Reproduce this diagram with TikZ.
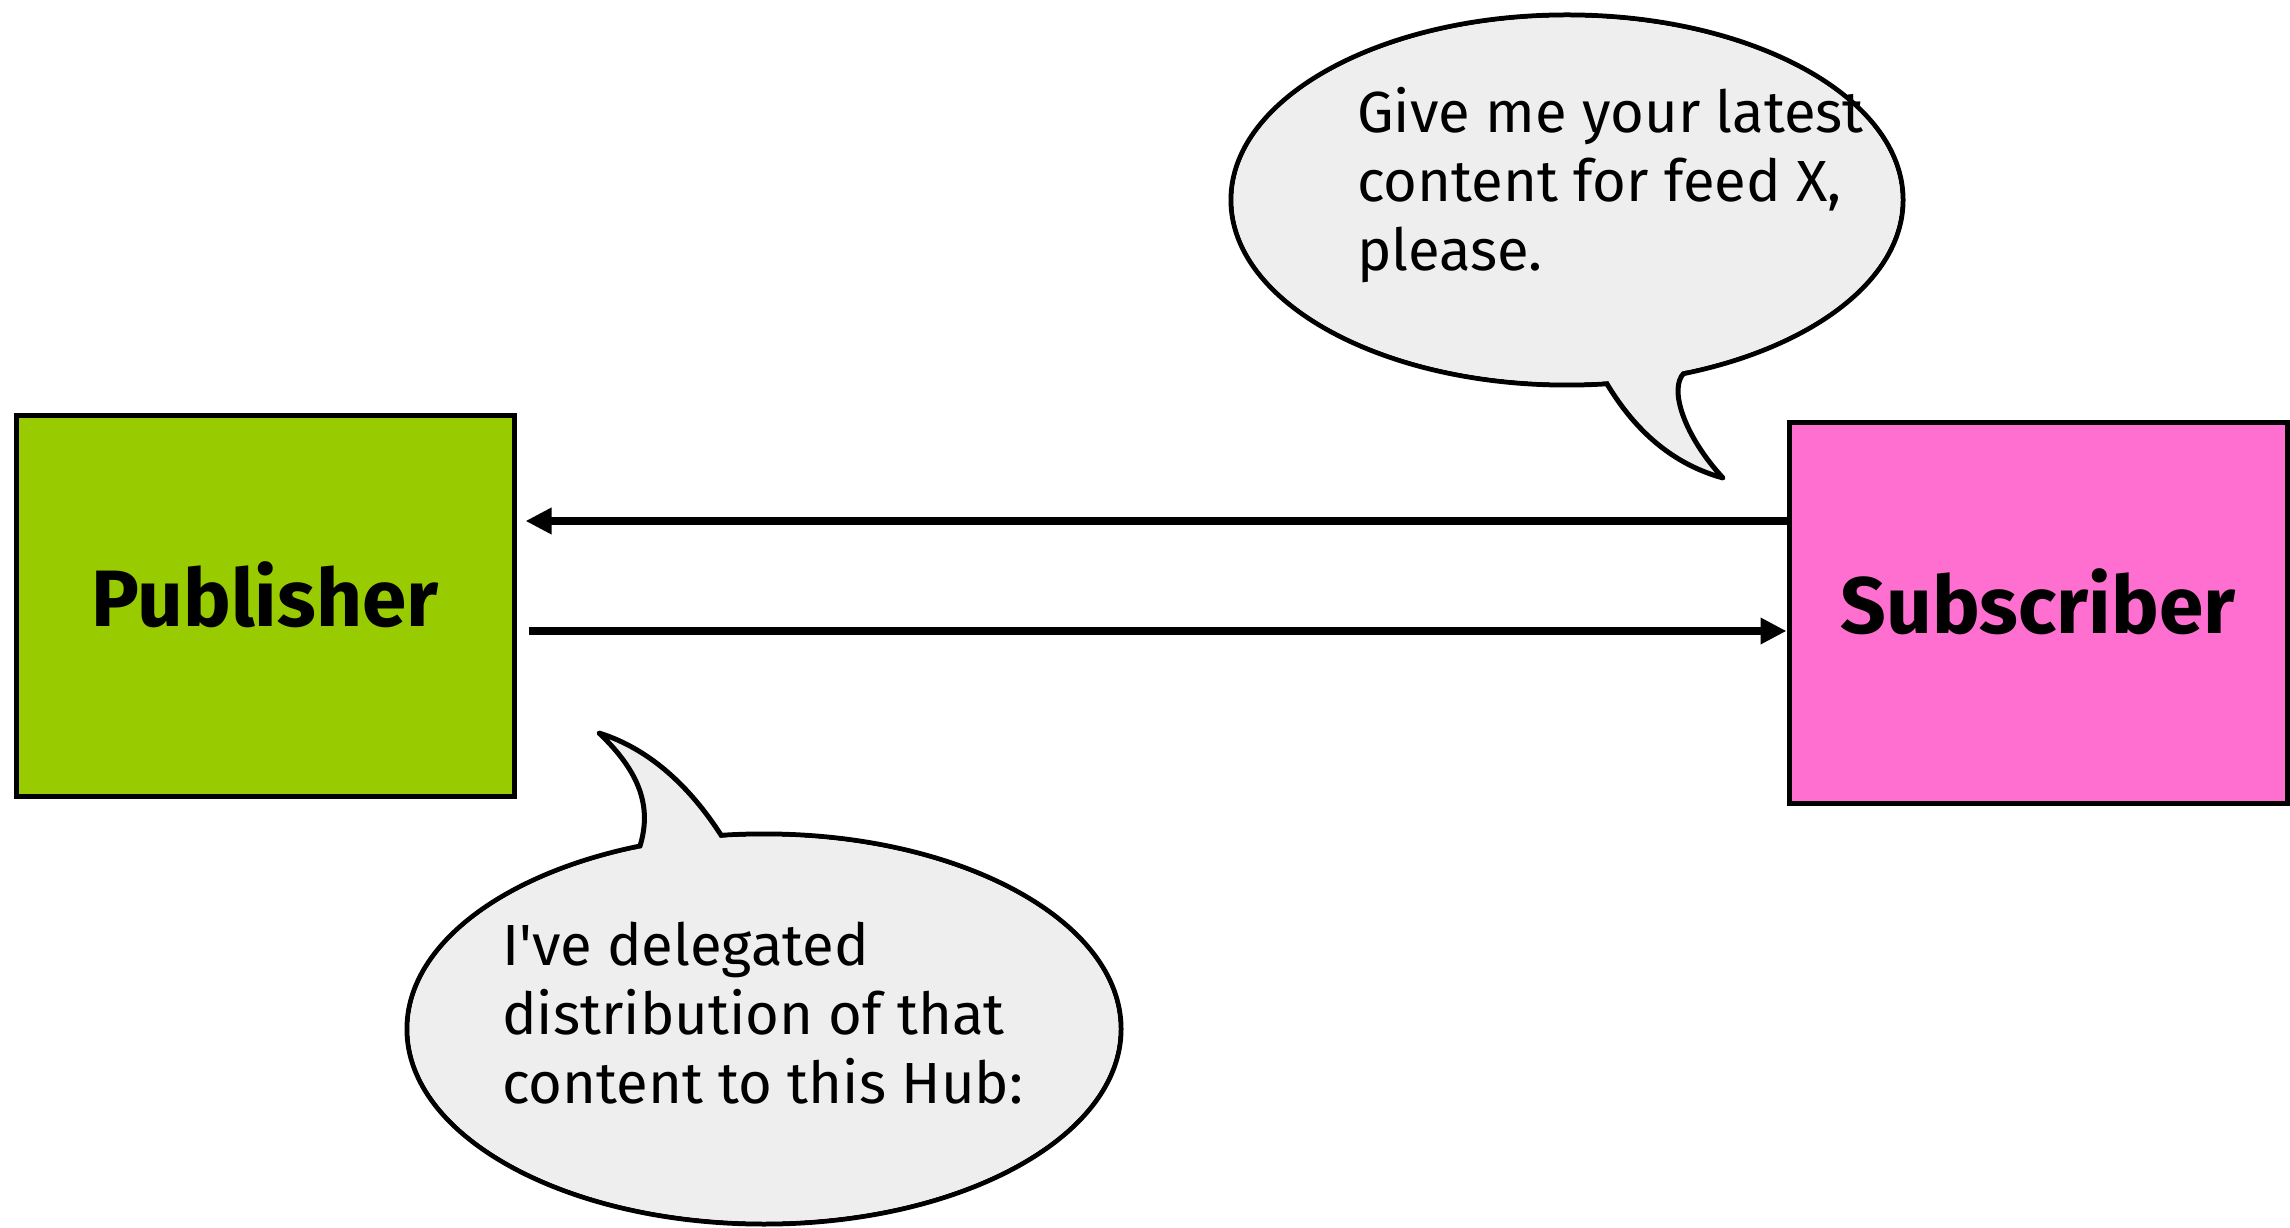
\documentclass[tikz,border=0pt]{standalone}
\usepackage{fontspec}
\setmainfont{Fira Sans}
\usetikzlibrary{arrows.meta,shapes.geometric}
\definecolor{pubgreen}{HTML}{99CC00}
\definecolor{subpink}{HTML}{FF6FCF}
\definecolor{bubblegray}{HTML}{EEEEEE}
\begin{document}
\begin{tikzpicture}[x=1pt, y=1pt,
	party/.style={draw, line width=5pt, minimum width=498pt, minimum height=380pt,
		text height=55pt, text depth=14pt, font=\fontsize{80}{84}\selectfont\bfseries},
	bubble/.style={ellipse, draw, fill=bubblegray, line width=5pt, inner sep=0pt},
	tail/.style={fill=bubblegray, draw, line width=5pt, line join=round},
	words/.style={anchor=west, align=left, inner sep=0pt, font=\fontsize{58}{69}\selectfont},
	flow/.style={line width=7.5pt, -{Triangle[length=26pt, width=25pt]}}]
	\useasboundingbox (0,0) rectangle (2290,1227);
	\node[party, fill=pubgreen] (pub) at (265,621) {Publisher};
	\node[party, fill=subpink] (sub) at (2038,614) {Subscriber};
	\draw[flow] ([yshift=92pt]sub.west) -- ([xshift=9pt, yshift=85pt]pub.east);
	\draw[flow] ([xshift=12pt, yshift=-25pt]pub.east) -- ([yshift=-18pt]sub.west);
	\node[bubble, minimum width=672pt, minimum height=370pt] (askbub) at (1567,1027) {};
	\draw[tail] (1600,858) -- (1607,843) .. controls (1630,805) and (1665,765) .. (1723,749)
		.. controls (1685,790) and (1668,838) .. (1684,854) -- (1690,866) -- cycle;
	\fill[bubblegray] (askbub.center) ellipse [x radius=333.5, y radius=182.5];
	\node[words] (asktext) at (1357,1042) {Give me your latest\\content for feed X,\\please.};
	\node[bubble, minimum width=714pt, minimum height=390pt] (delegbub) at (764,198) {};
	\draw[tail] (632,368) -- (640,381) .. controls (652,420) and (640,455) .. (599,494)
		.. controls (650,478) and (690,440) .. (721,392) -- (730,378) -- cycle;
	\fill[bubblegray] (delegbub.center) ellipse [x radius=354.5, y radius=192.5];
	\node[words] (delegtext) at (502,214) {I\textquotesingle ve delegated\\distribution of that\\content to this Hub:};
\end{tikzpicture}
\end{document}
